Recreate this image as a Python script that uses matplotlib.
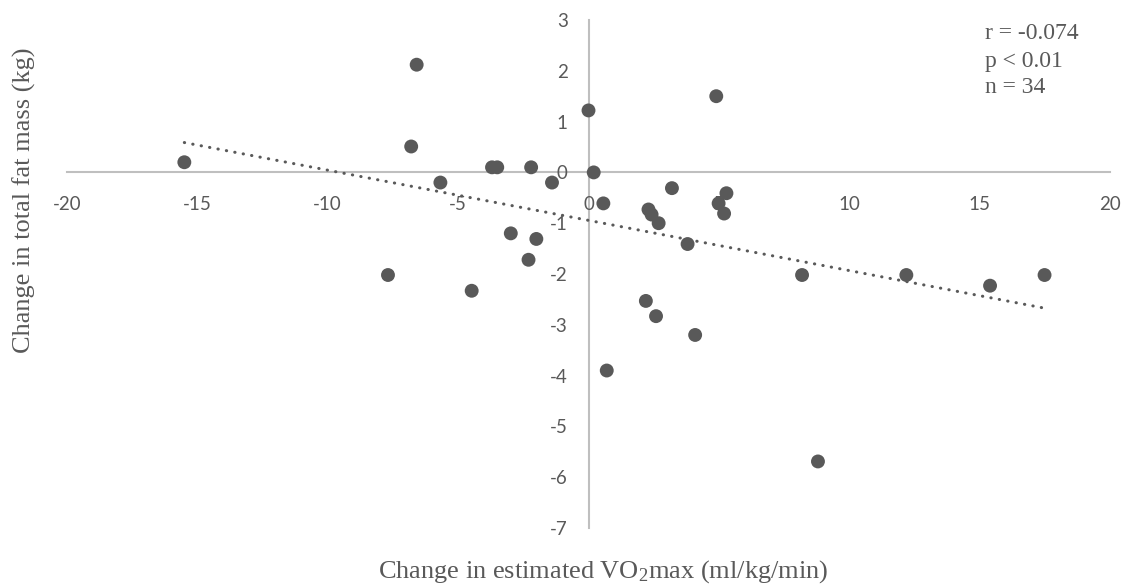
import numpy as np
import matplotlib
matplotlib.use("Agg")
import matplotlib.pyplot as plt

# Data
vo2_change = [
    0.0, 4.9, 0.2, 3.2, 0.57, 2.3, 2.42, 2.69, 4.99, 5.29, 5.2, 3.8,
    8.19, 12.19, 15.4, 17.49, 2.2, 2.59, 4.09, 0.7, 8.8,
    -15.5, -6.59, -6.8, -5.68, -3.7, -3.5, -2.2, -1.4, -2.98, -2.0, -2.3,
    -7.69, -4.48,
]
fat_change = [
    1.22, 1.5, 0.0, -0.31, -0.61, -0.73, -0.83, -1.0, -0.61, -0.41, -0.81, -1.41,
    -2.02, -2.02, -2.23, -2.02, -2.53, -2.83, -3.2, -3.9, -5.69,
    0.2, 2.12, 0.51, -0.2, 0.1, 0.1, 0.1, -0.2, -1.2, -1.31, -1.72,
    -2.02, -2.33,
]
x_ticks = [-20, -15, -10, -5, 0, 5, 10, 15, 20]
y_ticks = [-7, -6, -5, -4, -3, -2, -1, 0, 1, 2, 3]
stats_lines = ["r = -0.074", "p < 0.01", "n = 34"]

plt.rcParams['mathtext.fontset'] = 'custom'
plt.rcParams['mathtext.rm'] = 'Liberation Serif'
plt.rcParams['mathtext.default'] = 'regular'

grey = '#595959'
axis_grey = '#BFBFBF'

fig = plt.figure(figsize=(11.3, 5.87), dpi=100)
ax = fig.add_axes([67/1130, 1 - 528/587, (1110-67)/1130, (528-20)/587])

x = np.array(vo2_change)
y = np.array(fat_change)
ax.scatter(x, y, s=100, color=grey, edgecolors='none', zorder=3)

# linear trendline
slope, intercept = np.polyfit(x, y, 1)
xt = np.array([x.min(), x.max()])
ax.plot(xt, slope * xt + intercept, color=grey, lw=2.2,
        linestyle=(0, (0.1, 2.7)), dash_capstyle='round', zorder=2)

ax.set_xlim(-20, 20)
ax.set_ylim(-7, 3)
ax.set_xticks(x_ticks)
ax.set_yticks(y_ticks)
ax.set_xticklabels([str(v) for v in x_ticks])
ax.set_yticklabels([str(v) for v in y_ticks])

for side in ['top', 'right']:
    ax.spines[side].set_visible(False)
ax.spines['left'].set_position(('data', 0))
ax.spines['bottom'].set_position(('data', 0))
for side in ['left', 'bottom']:
    ax.spines[side].set_color(axis_grey)
    ax.spines[side].set_linewidth(1.5)
    ax.spines[side].set_zorder(1)

ax.tick_params(axis='x', length=0, pad=17, labelsize=13.5, labelcolor=grey)
ax.tick_params(axis='y', length=0, pad=15, labelsize=13.5, labelcolor=grey)
for lab in ax.get_xticklabels() + ax.get_yticklabels():
    lab.set_fontfamily('Lato')
ax.patch.set_alpha(0)

fig.text(603/1130, 1 - 578/587, 'Change in estimated VO$_2$max (ml/kg/min)',
         family='Liberation Serif', fontsize=19, color=grey, ha='center', va='baseline')
fig.text(24/1130, 1 - 200/587, 'Change in total fat mass (kg)',
         family='Liberation Serif', fontsize=19, color=grey, ha='center', va='center',
         rotation=90)

for line, base in zip(stats_lines, [39, 67, 93]):
    fig.text(985/1130, 1 - base/587, line, family='Liberation Serif', fontsize=17,
             color=grey, ha='left', va='baseline')

fig.savefig('out.png', dpi=100)
